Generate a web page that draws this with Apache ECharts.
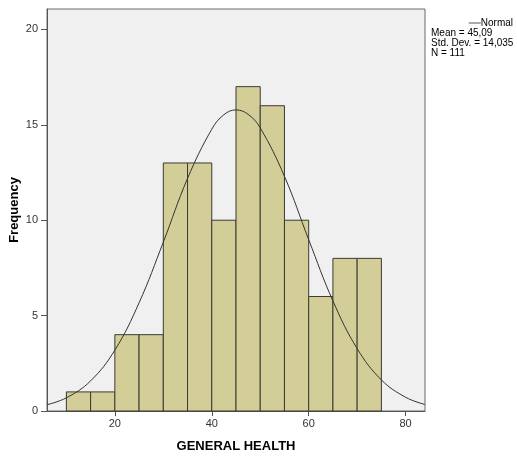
<!DOCTYPE html>
<html>
<head>
<meta charset="utf-8">
<script src="https://cdn.jsdelivr.net/npm/echarts@6/dist/echarts.min.js"></script>
<style>
html,body{margin:0;padding:0;background:#fff;}
#chart{width:517px;height:457px;}
</style>
</head>
<body>
<div id="chart"></div>
<script>
// Histogram bins (start, end) and frequencies
var binStarts = [10, 15, 20, 25, 30, 35, 40, 45, 50, 55, 60, 65, 70];
var binWidth = 5;
var frequencies = [1, 1, 4, 4, 13, 13, 10, 17, 16, 10, 6, 8, 8];

// Normal curve, values
var curveX = [6, 10, 15, 20, 25, 30, 35, 40, 42.5, 45, 47.5, 50, 55, 60, 65, 70, 75, 80, 84];
var curveY = [0.33, 0.69, 1.58, 3.19, 5.67, 8.85, 12.19, 14.77, 15.53, 15.78, 15.55, 14.84, 12.30, 8.98, 5.77, 3.27, 1.63, 0.72, 0.34];

var xTicks = [20, 40, 60, 80];
var yTicks = [0, 5, 10, 15, 20];

var statsLines = ['Mean = 45,09', 'Std. Dev. = 14,035', 'N = 111'];
var xTitle = 'GENERAL HEALTH';
var yTitle = 'Frequency';

var FONT = '"Liberation Sans", Arial, sans-serif';

var histData = binStarts.map(function (s, i) { return [s, s + binWidth, frequencies[i]]; });
var curveData = curveX.map(function (x, i) { return [x, curveY[i]]; });

var chart = echarts.init(document.getElementById('chart'), null, {renderer: 'canvas'});

chart.setOption({
  animation: false,
  backgroundColor: '#ffffff',
  grid: {
    left: 47, right: 92, top: 9, bottom: 46,
    containLabel: false, outerBoundsMode: 'none',
    show: true, backgroundColor: '#f0f0f0', borderColor: '#6a6a6a', borderWidth: 1
  },
  legend: {
    data: ['Normal'],
    right: 4, top: 18,
    icon: 'rect', itemWidth: 12, itemHeight: 1, itemGap: 0,
    textStyle: {fontFamily: FONT, fontSize: 10, color: '#000', padding: [0, 0, 0, -5]},
    padding: 0
  },
  graphic: statsLines.map(function (t, i) {
    return {
      type: 'text', left: 431, top: 28 + i * 10,
      style: {text: t, fontFamily: FONT, fontSize: 10, fill: '#000'}
    };
  }),
  xAxis: {
    type: 'value', min: 6, max: 84,
    name: xTitle, nameLocation: 'middle', nameGap: 29, nameMoveOverlap: false,
    nameTextStyle: {fontFamily: FONT, fontSize: 13, fontWeight: 'bold', color: '#000'},
    axisLine: {show: true, onZero: false, lineStyle: {color: '#555', width: 1}},
    axisTick: {show: true, inside: false, length: 5, customValues: xTicks, lineStyle: {color: '#555'}},
    axisLabel: {customValues: xTicks, fontFamily: FONT, fontSize: 11, color: '#333', margin: 7},
    splitLine: {show: false}
  },
  yAxis: {
    type: 'value', min: 0, max: 21.07,
    name: yTitle, nameLocation: 'middle', nameGap: 26, nameRotate: 90, nameMoveOverlap: false,
    nameTextStyle: {fontFamily: FONT, fontSize: 13, fontWeight: 'bold', color: '#000'},
    axisLine: {show: true, lineStyle: {color: '#555', width: 1}},
    axisTick: {show: true, inside: false, length: 6, customValues: yTicks, lineStyle: {color: '#555'}},
    axisLabel: {customValues: yTicks, fontFamily: FONT, fontSize: 11, color: '#333', margin: 9},
    splitLine: {show: false}
  },
  series: [
    {
      type: 'custom', name: 'Histogram',
      data: histData,
      encode: {x: [0, 1], y: 2},
      renderItem: function (params, api) {
        var p0 = api.coord([api.value(0), api.value(2)]);
        var p1 = api.coord([api.value(1), 0]);
        return {
          type: 'rect',
          shape: {x: p0[0], y: p0[1], width: p1[0] - p0[0], height: p1[1] - p0[1]},
          style: {fill: '#d3ce97', stroke: '#3a3a32', lineWidth: 1}
        };
      },
      z: 2
    },
    {
      type: 'line', name: 'Normal',
      data: curveData, smooth: 0.4, showSymbol: false, symbol: 'none',
      lineStyle: {color: '#333', width: 1},
      itemStyle: {color: '#555'},
      z: 3
    }
  ]
});
</script>
</body>
</html>
